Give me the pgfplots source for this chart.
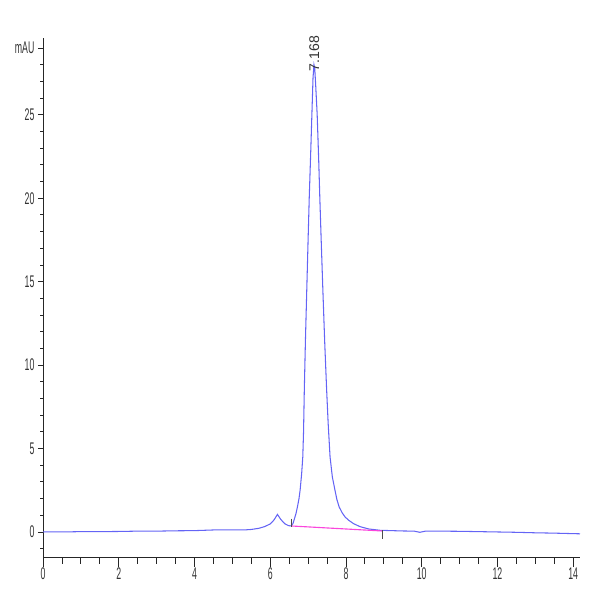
\documentclass[border=0pt]{standalone}
\usepackage{fontspec}
\setmainfont{Liberation Sans}
\usepackage{pgfplots}
\pgfplotsset{compat=1.18}

\definecolor{trace}{RGB}{100,100,245}
\definecolor{basel}{RGB}{250,70,220}

\begin{document}
\begin{tikzpicture}
\path[use as bounding box] (0,0) rectangle (15cm,15cm);
\begin{axis}[
    at={(1.075cm,1.075cm)}, anchor=south west,
    scale only axis,
    width=13.425cm, height=12.975cm,
    xmin=0, xmax=14.18,
    ymin=-1.5, ymax=29.6,
    axis x line*=bottom,
    axis y line*=left,
    axis line style={-, black!85, line width=0.6pt},
    tick align=outside,
    tick style={black!85, line width=0.6pt},
    xtick style={/pgfplots/major tick length=0.25cm},
    minor x tick style={/pgfplots/minor tick length=0.17cm},
    ytick style={/pgfplots/major tick length=0.13cm},
    minor y tick style={/pgfplots/minor tick length=0.07cm},
    xtick={0,2,...,14},
    minor xtick={0,0.5,...,14},
    ytick={0,5,...,25},
    minor ytick={-1,0,...,29},
    extra y ticks={29},
    extra y tick labels={mAU},
    /pgf/number format/assume math mode=true,
    ticklabel style={font=\fontsize{12}{14}\selectfont, xscale=0.52, text=black!80},
    clip=false,
]

% chromatogram trace
\addplot[trace, line width=0.75pt] coordinates {
    (0,0.0) (0.5,0.0) (1,0.02) (1.5,0.02) (2,0.03) (2.5,0.05) (3,0.05)
    (3.5,0.07) (4,0.08) (4.5,0.12) (5,0.13) (5.3,0.12) (5.5,0.15)
    (5.7,0.22) (5.85,0.32) (6.0,0.48) (6.1,0.72) (6.19,1.05) (6.28,0.75)
    (6.38,0.5) (6.48,0.38) (6.55,0.36) (6.60,0.5) (6.63,0.72) (6.68,1.1)
    (6.72,1.52) (6.76,2.0) (6.79,2.52) (6.83,3.5) (6.86,4.5) (6.88,6.0)
    (6.90,8.5) (6.93,11.5) (6.965,14.5) (7.0,17.5) (7.03,20) (7.07,22.8)
    (7.10,25) (7.13,27.2) (7.155,28.0) (7.175,27.8) (7.20,26.8) (7.24,25)
    (7.28,22.3) (7.31,20) (7.35,17.2) (7.39,14.5) (7.44,11.3) (7.49,8.5)
    (7.53,6.5) (7.58,4.5) (7.64,3.3) (7.71,2.5) (7.76,1.95) (7.82,1.5)
    (7.9,1.15) (7.97,0.92) (8.06,0.72) (8.2,0.5) (8.37,0.32) (8.6,0.18)
    (8.9,0.1) (9.2,0.08) (9.5,0.06) (9.8,0.05) (9.95,-0.02) (10.1,0.05)
    (10.5,0.05) (11,0.04) (11.5,0.02) (12,0.0) (12.5,-0.02) (13,-0.05)
    (13.5,-0.07) (14,-0.1) (14.18,-0.11)
};

% integration baseline
\addplot[basel, line width=0.8pt] coordinates {(6.55,0.36) (8.95,0.06)};

% peak start / end marks
\addplot[only marks, mark=|, mark size=3pt, black!70, mark options={line width=0.6pt}]
    coordinates {(6.55,0.55) (8.95,-0.15)};

\node[rotate=90, anchor=west, font=\fontsize{10}{12}\selectfont, text=black!80, inner sep=0pt]
    at (axis cs:7.165,27.6) {7.168};

\end{axis}
\end{tikzpicture}
\end{document}
